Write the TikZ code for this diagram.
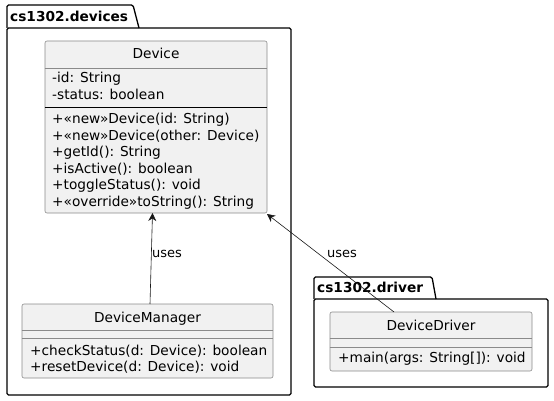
\documentclass[tikz,border=0pt]{standalone}
\usepackage{fontspec}
\setmainfont{DejaVu Sans}
\usetikzlibrary{arrows.meta,positioning}
\definecolor{umlfill}{HTML}{F1F1F1}
\definecolor{umlline}{HTML}{181818}
\definecolor{sepline}{HTML}{8A8A8A}
\tikzset{
  umlclass/.style={draw=sepline,fill=umlfill,rounded corners=2pt,line width=0.6pt,inner sep=0pt},
  sep/.style={draw=sepline,line width=0.6pt},
  pkg/.style={draw=black,line width=1.3pt,rounded corners=1.5pt,line join=round},
  member/.style={anchor=base west,inner sep=0pt,font=\fontsize{13.7}{16}\selectfont},
  cname/.style={anchor=base,inner sep=0pt,font=\fontsize{13.7}{16}\selectfont},
  pkgname/.style={anchor=base west,inner sep=0pt,font=\fontsize{13.7}{16}\selectfont\bfseries},
  uses/.style={draw=umlline,line width=0.6pt,{Stealth[length=8pt,width=8pt,inset=2.5pt]}-},
  lbl/.style={anchor=base west,inner sep=0pt,font=\fontsize{13}{16}\selectfont}
}
\begin{document}
\begin{tikzpicture}[x=1pt,y=-1pt]
  \useasboundingbox (0,0) rectangle (554,401);
  % packages
  \draw [pkg] (7,28) -- (7,5) -- (133,5) -- (139,28);
  \draw [pkg] (7,28) rectangle (291,395);
  \node [pkgname] (devpkg) at (10,22) {cs1302.devices};
  \draw [pkg] (314,299) -- (314,277) -- (432,277) -- (436,299);
  \draw [pkg] (314,299) rectangle (548,387);
  \node [pkgname] (drvpkg) at (317,292) {cs1302.driver};

  % Device
  \node [umlclass,minimum width=222pt,minimum height=172pt] (device) at (156,127) {};
  \draw [sep] (device.west |- 0,68) -- (device.east |- 0,68);
  \draw [black,line width=0.9pt] (device.west |- 0,107) -- (device.east |- 0,107);
  \node [cname] (devicename) at (156,59) {Device};
  \node [member] (devid) at (52,83) {-id: String};
  \node [member] (devstatus) at (52,100) {-status: boolean};
  \node [member] (devnew1) at (52,124) {+«new»Device(id: String)};
  \node [member] (devnew2) at (52,140.5) {+«new»Device(other: Device)};
  \node [member] (devgetid) at (52,157) {+getId(): String};
  \node [member] (devactive) at (52,173) {+isActive(): boolean};
  \node [member] (devtoggle) at (52,189.5) {+toggleStatus(): void};
  \node [member] (devtostr) at (52,206) {+«override»toString(): String};

  % DeviceManager
  \node [umlclass,minimum width=251pt,minimum height=74pt] (manager) at (147.5,341) {};
  \draw [sep] (manager.west |- 0,330) -- (manager.east |- 0,330);
  \draw [sep] (manager.west |- 0,338) -- (manager.east |- 0,338);
  \node [cname] (managername) at (147.5,322) {DeviceManager};
  \node [member] (mancheck) at (30,355) {+checkStatus(d: Device): boolean};
  \node [member] (manreset) at (30,371) {+resetDevice(d: Device): void};

  % DeviceDriver
  \node [umlclass,minimum width=202pt,minimum height=59pt] (driver) at (431,341.5) {};
  \draw [sep] (driver.west |- 0,338) -- (driver.east |- 0,338);
  \draw [sep] (driver.west |- 0,347) -- (driver.east |- 0,347);
  \node [cname] (drivername) at (431,330) {DeviceDriver};
  \node [member] (drvmain) at (338,362) {+main(args: String[]): void};

  % dependencies
  \coordinate (devbot) at (152.5,213);
  \coordinate (devcorner) at (267,214);
  \coordinate (mantop) at (150,304);
  \coordinate (drvtop) at (394,312);
  \draw [uses] (devbot) -- (mantop);
  \draw [uses] (devcorner) -- (drvtop);
  \node [lbl] (uses1) at (152,257) {uses};
  \node [lbl] (uses2) at (327,257) {uses};
\end{tikzpicture}
\end{document}
